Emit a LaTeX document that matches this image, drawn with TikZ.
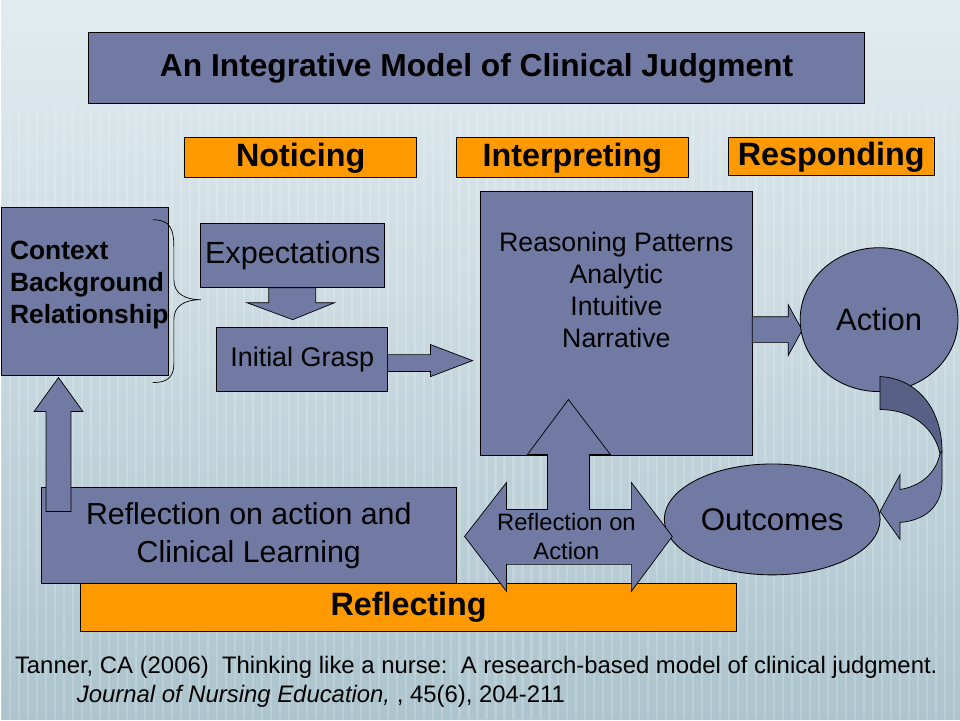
\documentclass[tikz,border=0pt]{standalone}
\usepackage{fontspec}
\setmainfont{Liberation Sans}
\usetikzlibrary{arrows.meta, positioning, shapes.geometric, calc}
\definecolor{slate}{RGB}{112,122,162}
\definecolor{slatedark}{RGB}{88,97,133}
\definecolor{stageorange}{RGB}{255,153,0}
\definecolor{bgtop}{RGB}{226,236,240}
\definecolor{bgbottom}{RGB}{172,196,205}

\tikzset{
  panel/.style={draw=black, fill=slate, line width=0.6pt, inner sep=0pt},
  stage/.style={draw=black, fill=stageorange, line width=0.6pt, inner sep=0pt,
    font=\fontsize{23}{27}\selectfont\bfseries},
  blockarrow/.style={draw=black, fill=slate, line width=0.5pt, line join=miter},
}

\begin{document}
\begin{tikzpicture}[x=0.025cm, y=-0.025cm]
  % background
  \shade[top color=bgtop, bottom color=bgbottom] (0,0) rectangle (960,720);
  \foreach \x in {0,9,...,960} {
    \draw[white, opacity=0.18, line width=1.5pt] (\x,110) -- (\x,720);
  }
  \useasboundingbox (0,0) rectangle (960,720);

  % title and stages
  \node[panel, minimum width=19.4cm, minimum height=1.8cm,
    font=\fontsize{22.6}{26}\selectfont\bfseries] (title) at (476,68)
    {An Integrative Model of Clinical Judgment};
  \node[stage, minimum width=5.8cm, minimum height=1cm] (noticing) at (300,158) {Noticing};
  \node[stage, minimum width=5.8cm, minimum height=1cm] (interpreting) at (572,158) {Interpreting};
  \node[stage, minimum width=5.15cm, minimum height=0.95cm] (responding) at (831,157) {Responding};

  % context
  \node[panel, minimum width=4.2cm, minimum height=4.2cm] (context) at (84,292) {};
  \node[anchor=west, align=left, font=\fontsize{18.8}{22.7}\selectfont\bfseries]
    (contexttext) at (4,285) {Context\\Background\\Relationship};
  \draw[line width=0.5pt] (152,220) .. controls (170,220) and (173,230) .. (173,248)
    -- (173,280) .. controls (173,294) and (184,300) .. (200,300)
    .. controls (184,300) and (173,306) .. (173,320)
    -- (173,364) .. controls (173,378) and (166,383) .. (152,383);

  % noticing
  \draw[blockarrow] (268,288) -- (315,288) -- (315,303) -- (334,303) -- (292,320)
    -- (246,303) -- (268,303) -- cycle;
  \node[panel, minimum width=4.6cm, minimum height=1.6cm,
    font=\fontsize{21.8}{25}\selectfont] (expect) at (292,256) {Expectations};
  \node[panel, minimum width=4.275cm, minimum height=1.6cm,
    font=\fontsize{19.2}{22}\selectfont] (grasp) at (301.5,360) {Initial Grasp};
  \draw[blockarrow] (387,355) -- (430,355) -- (430,345) -- (472,361) -- (430,377)
    -- (430,372) -- (387,372) -- cycle;

  % interpreting
  \node[panel, minimum width=6.8cm, minimum height=6.6cm] (reasoning) at (616,324) {};
  \node[align=center, font=\fontsize{19}{22.7}\selectfont] (reasoningtext) at (616,290)
    {Reasoning Patterns\\Analytic\\Intuitive\\Narrative};
  \draw[blockarrow] (752,317) -- (788,317) -- (788,305) -- (802,330.5) -- (788,356)
    -- (788,343) -- (752,343) -- cycle;

  % responding
  \node[ellipse, panel, minimum width=3.95cm, minimum height=3.6cm,
    font=\fontsize{22}{26}\selectfont] (action) at (879,320) {Action};
  \node[ellipse, panel, minimum width=5.4cm, minimum height=2.775cm,
    font=\fontsize{22.3}{26}\selectfont] (outcomes) at (772,520) {Outcomes};
  \draw[blockarrow, fill=slatedark] (880,377) .. controls (918,379) and (942,410) .. (942,452)
    -- (940,454) .. controls (934,428) and (912,410) .. (880,410) -- cycle;
  \draw[blockarrow] (940,454) -- (942,452) -- (942,482)
    .. controls (942,507) and (925,521) .. (900,523)
    -- (900,540) -- (880,512) -- (900,475) -- (900,490)
    .. controls (920,487) and (936,474) .. (940,454) -- cycle;

  % reflecting
  \node[panel, minimum width=10.4cm, minimum height=2.4cm, align=center,
    font=\fontsize{21.6}{27}\selectfont] (reflearn) at (248,536)
    {Reflection on action and\\Clinical Learning};
  \draw[blockarrow] (45,512) -- (45,412) -- (33,412) -- (57.5,378) -- (82,412)
    -- (70,412) -- (70,512) -- cycle;
  \node[stage, minimum width=16.4cm, minimum height=1.2cm] (reflecting) at (408,608) {Reflecting};
  \draw[blockarrow] (464,537) -- (506,483) -- (506,510) -- (547,510) -- (547,455)
    -- (527,455) -- (568,400) -- (610,455) -- (589,455) -- (589,510) -- (631,510)
    -- (631,483) -- (672,537) -- (631,592) -- (631,565) -- (506,565) -- (506,592) -- cycle;
  \node[align=center, font=\fontsize{16.9}{20.5}\selectfont] (reflaction) at (566,537)
    {Reflection on\\Action};

  % citation
  \node[anchor=west, font=\fontsize{17}{19}\selectfont] (cite) at (9,668)
    {Tanner, CA (2006)\ \ Thinking like a nurse:\ \ A research-based model of clinical judgment.};
  \node[anchor=west, font=\fontsize{17}{19}\selectfont] (journal) at (71,697)
    {\textit{Journal of Nursing Education, }, 45(6), 204-211};
\end{tikzpicture}
\end{document}
